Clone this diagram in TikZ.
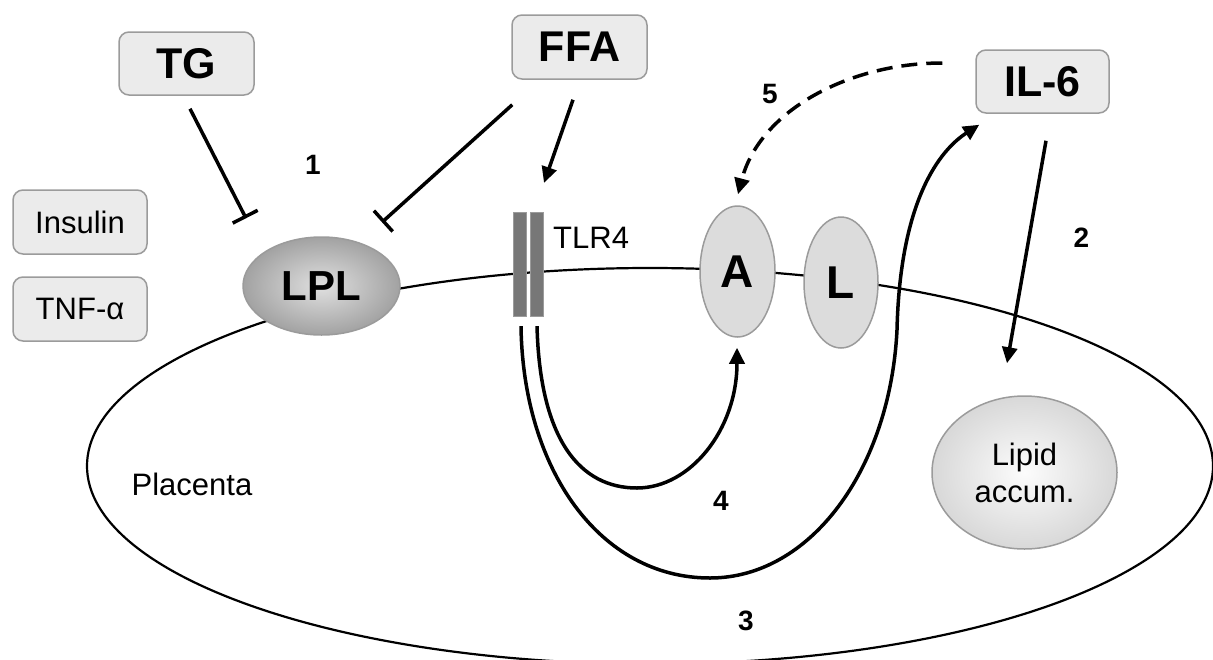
\documentclass[tikz,border=0pt]{standalone}
\usepackage{fontspec}
\setmainfont{Liberation Sans}
\usetikzlibrary{shapes.geometric,arrows.meta,calc}
\definecolor{boxfill}{HTML}{EBEBEB}
\definecolor{boxedge}{HTML}{9B9B9B}
\definecolor{lplin}{HTML}{E0E0E0}
\definecolor{lplout}{HTML}{A2A2A2}
\definecolor{protfill}{HTML}{DCDCDC}
\definecolor{tlrfill}{HTML}{777777}
\definecolor{lipin}{HTML}{FCFCFC}
\definecolor{lipout}{HTML}{D8D8D8}
\begin{document}
\begin{tikzpicture}[x=1pt,y={(0pt,-1pt)},
  box/.style={draw=boxedge, line width=1.5pt, fill=boxfill, rounded corners=10pt, inner sep=0pt},
  bigbox/.style={box, minimum width=135pt, minimum height=63pt, font=\fontsize{43}{50}\selectfont\bfseries},
  smallbox/.style={box, minimum width=134pt, minimum height=64pt, font=\fontsize{31}{37}\selectfont},
  blob/.style={ellipse, draw=boxedge, line width=1.5pt, inner sep=0pt},
  tlrbar/.style={rectangle, draw=boxedge, line width=1.2pt, fill=tlrfill, minimum width=13pt, minimum height=104pt, inner sep=0pt},
  num/.style={font=\fontsize{28}{32}\selectfont\bfseries, inner sep=0pt},
  plain/.style={font=\fontsize{31}{37}\selectfont, inner sep=0pt},
  link/.style={line width=3.5pt},
  act/.style={link, -{Triangle[length=16pt,width=15pt]}},
  inh/.style={link, -{Bar[width=28pt]}},
  membrane/.style={line width=2.2pt}]
\useasboundingbox (0,0) rectangle (1213,659);

% cell membrane of the placenta
\draw[membrane] (650,466) ellipse [x radius=563, y radius=198];

% extracellular factors
\node[bigbox] (tg) at (186.5,63.5) {TG};
\node[bigbox, minimum height=64pt] (ffa) at (579.5,47) {FFA};
\node[bigbox, minimum width=133pt] (il6) at (1042.5,81.5) {IL-6};
\node[smallbox] (ins) at (80,222) {Insulin};
\node[smallbox] (tnf) at (80,309) {TNF-α};

% membrane proteins
\node[blob, minimum width=157pt, minimum height=98pt, shade, shading=radial,
      inner color=lplin, outer color=lplout,
      font=\fontsize{42}{48}\selectfont\bfseries] (lpl) at (321.5,286) {LPL};
\node[tlrbar] (tlrL) at (520,264.5) {};
\node[tlrbar] (tlrR) at (537,264.5) {};
\node[plain, anchor=west] (tlrlabel) at (553,238) {TLR4};
\node[blob, minimum width=75pt, minimum height=131pt, fill=protfill,
      font=\fontsize{46}{52}\selectfont\bfseries] (a) at (737.5,271.5) {A};
\node[blob, minimum width=74pt, minimum height=131pt, fill=protfill,
      font=\fontsize{46}{52}\selectfont\bfseries] (l) at (841,282.5) {L};

% intracellular
\node[blob, minimum width=185pt, minimum height=153pt, shade, shading=radial,
      inner color=lipin, outer color=lipout, align=center,
      font=\fontsize{31}{37}\selectfont] (lipid) at (1024.5,472.5) {Lipid\\accum.};
\node[plain] (placenta) at (192,484) {Placenta};

% pathway numbers
\node[num] (n1) at (313,165) {1};
\node[num] (n2) at (1081.5,238) {2};
\node[num] (n3) at (746,621) {3};
\node[num] (n4) at (721,501) {4};
\node[num] (n5) at (770,94.5) {5};

% inhibition of LPL
\draw[inh] ([shift={(3.5,13)}]tg.south) -- ([shift={(-75.5,-18)}]lpl.north);
\draw[inh] ([shift={(1,25)}]ffa.south west) -- ([shift={(60.5,-14)}]lpl.north);

% activation arrows
\draw[act] ([shift={(-6.5,20)}]ffa.south) -- ([shift={(7,-29)}]tlrR.north);
\draw[act] ([shift={(3.5,27)}]il6.south) -- ([shift={(-17.5,-32)}]lipid.north);
\draw[act, dash pattern=on 16pt off 9pt]
  ([shift={(-33,-18.5)}]il6.west) .. controls (850,63) and (760,110) .. ([shift={(0.5,-11)}]a.north);
\draw[act] ([shift={(0,9)}]tlrR.south) .. controls (540,440) and (580,488) .. (637,488)
  .. controls (690,488) and (737,430) .. ([shift={(-0.5,10)}]a.south);
\draw[act] ([shift={(1,9)}]tlrL.south) .. controls (523,470) and (600,578) .. (710,578)
  .. controls (810,578) and (890,470) .. (897,330)
  .. controls (900,200) and (940,150) .. ([shift={(4,11)}]il6.south west);
\end{tikzpicture}
\end{document}
